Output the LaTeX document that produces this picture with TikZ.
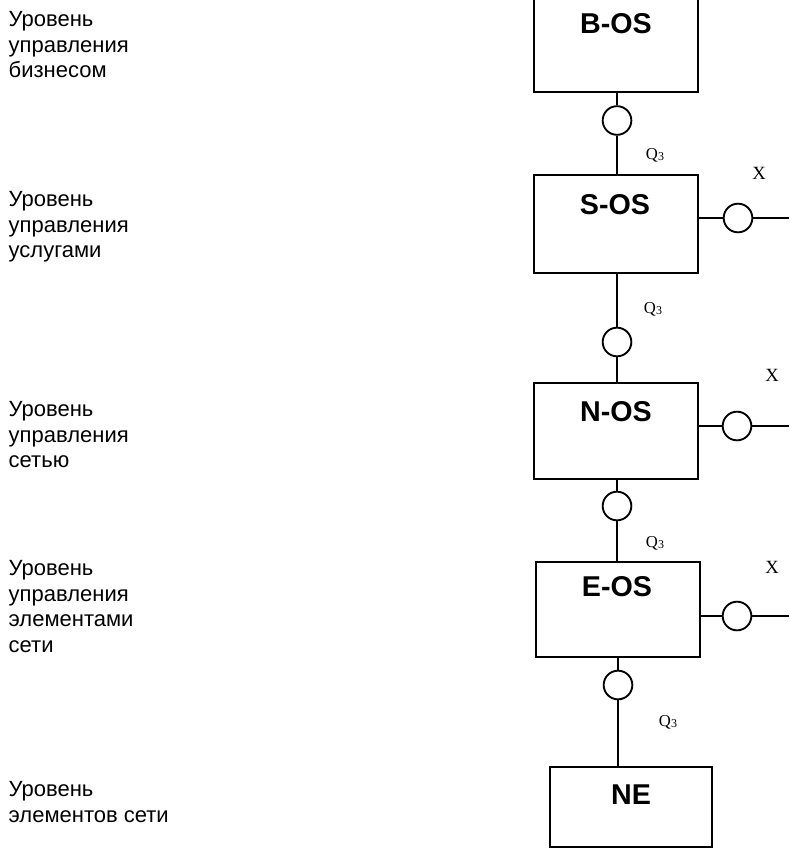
\documentclass[tikz,border=0pt]{standalone}
\usepackage{fontspec}
\setmainfont{Liberation Sans}
\newfontfamily\qfont{Liberation Serif}

\tikzset{every picture/.style={line width=1.1pt}}
\tikzset{
  osbox/.style={draw, rectangle, inner sep=0pt, minimum width=123pt, minimum height=72pt},
  iface/.style={draw, circle, fill=white, line width=1.4pt, inner sep=0pt, minimum size=21.5pt},
  levtext/.style={anchor=north west, inner sep=0pt, align=left, font=\fontsize{16.5}{19.1}\selectfont},
  ostext/.style={anchor=base, inner sep=0pt, font=\fontsize{21.5}{24}\selectfont\bfseries},
  qtext/.style={inner sep=0pt, font=\qfont\fontsize{12.5}{15}\selectfont},
  xtext/.style={inner sep=0pt, font=\qfont\fontsize{14}{15}\selectfont},
}
\newcommand{\qlab}{Q\raisebox{-1pt}{\fontsize{9}{9}\selectfont 3}}

\begin{document}
\begin{tikzpicture}[x=0.75pt,y=0.75pt,yscale=-1,xscale=1]
        \useasboundingbox (0,0) rectangle (789,849);
        \clip (0,0) rectangle (789,849);

        % Level labels
        \node[levtext] (lev1) at (8,11) {Уровень\\управления\\бизнесом};
        \node[levtext] (lev2) at (8,191) {Уровень\\управления\\услугами};
        \node[levtext] (lev3) at (8,401) {Уровень\\управления\\сетью};
        \node[levtext] (lev4) at (8,560) {Уровень\\управления\\элементами\\сети};
        \node[levtext] (lev5) at (8,781) {Уровень\\элементов сети};

        % OS boxes
        \node[osbox] (bos) at (616,44) {};
        \node[osbox, minimum height=73.5pt] (sos) at (616,224) {};
        \node[osbox] (nos) at (616,431) {};
        \node[osbox, minimum height=71.25pt] (eos) at (618,609.5) {};
        \node[osbox, minimum width=121.5pt, minimum height=60pt] (ne) at (631,807) {};

        % Box titles
        \node[ostext] (bostxt) at (616,34) {B-OS};
        \node[ostext] (sostxt) at (615,214) {S-OS};
        \node[ostext] (nostxt) at (616,421) {N-OS};
        \node[ostext] (eostxt) at (617,596) {E-OS};
        \node[ostext] (netxt) at (631,804) {NE};

        % Q3 interfaces
        \node[iface] (q1) at (617,120.5) {};
        \node[iface] (q2) at (617,342) {};
        \node[iface] (q3) at (617,506) {};
        \node[iface] (q4) at (618,685) {};

        % X interfaces
        \node[iface] (x1) at (738,218) {};
        \node[iface] (x2) at (737,426) {};
        \node[iface] (x3) at (737,616) {};
        \coordinate (x1end) at (789,218);
        \coordinate (x2end) at (789,426);
        \coordinate (x3end) at (789,616);

        % Vertical links
        \draw (q1 |- bos.south) -- (q1) -- (q1 |- sos.north);
        \draw (q2 |- sos.south) -- (q2) -- (q2 |- nos.north);
        \draw (q3 |- nos.south) -- (q3) -- (q3 |- eos.north);
        \draw (q4 |- eos.south) -- (q4) -- (q4 |- ne.north);

        % Horizontal links
        \draw (x1 -| sos.east) -- (x1) -- (x1end);
        \draw (x2 -| nos.east) -- (x2) -- (x2end);
        \draw (x3 -| eos.east) -- (x3) -- (x3end);

        % Reference point labels
        \node[qtext] (q1lab) at (655,155) {\qlab};
        \node[qtext] (q2lab) at (653,309) {\qlab};
        \node[qtext] (q3lab) at (655,543) {\qlab};
        \node[qtext] (q4lab) at (668,722) {\qlab};
        \node[xtext] (x1lab) at (759,173) {X};
        \node[xtext] (x2lab) at (772,375) {X};
        \node[xtext] (x3lab) at (772,567) {X};
\end{tikzpicture}
\end{document}
